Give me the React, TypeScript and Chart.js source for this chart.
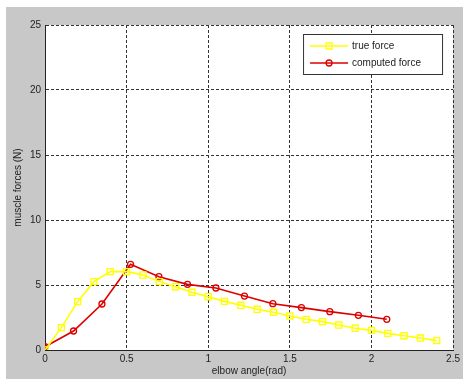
import React, { useEffect, useRef } from "react";
import { Chart, registerables } from "chart.js";

Chart.register(...registerables);

const trueX = [0, 0.1, 0.2, 0.3, 0.4, 0.5, 0.6, 0.7, 0.8, 0.9, 1.0, 1.1, 1.2, 1.3, 1.4, 1.5, 1.6, 1.7, 1.8, 1.9, 2.0, 2.1, 2.2, 2.3, 2.4];
const trueForce = [0, 1.72, 3.72, 5.26, 6.03, 6.03, 5.77, 5.26, 4.87, 4.44, 4.1, 3.74, 3.44, 3.13, 2.9, 2.62, 2.36, 2.18, 1.92, 1.67, 1.51, 1.28, 1.1, 0.92, 0.72];
const computedX = [0, 0.175, 0.349, 0.524, 0.698, 0.873, 1.047, 1.222, 1.396, 1.571, 1.745, 1.92, 2.094];
const computedForce = [0.25, 1.46, 3.54, 6.59, 5.64, 5.05, 4.77, 4.15, 3.56, 3.26, 2.95, 2.67, 2.36];
const seriesLabels = ["true force", "computed force"];
const xTicks = [0, 0.5, 1, 1.5, 2, 2.5];
const yTicks = [0, 5, 10, 15, 20, 25];

const FONT = "'Liberation Sans', Arial, sans-serif";
const TEXT = "#222222";
const YELLOW = "#ffff00";
const RED = "#dd0000";

const bgPlugin = {
  id: "bg",
  beforeDraw(chart: any) {
    const { ctx, chartArea } = chart;
    ctx.save();
    ctx.fillStyle = "#c8c8c8";
    ctx.fillRect(0, 0, chart.width, chart.height);
    ctx.fillStyle = "#ffffff";
    ctx.fillRect(chartArea.left, chartArea.top, chartArea.right - chartArea.left, chartArea.bottom - chartArea.top);
    ctx.restore();
  },
};

const legendPlugin = {
  id: "mlLegend",
  afterDraw(chart: any) {
    const { ctx, chartArea } = chart;
    const w = 139;
    const h = 40;
    const x0 = chartArea.right - 11 - w;
    const y0 = chartArea.top + 9;
    ctx.save();
    ctx.fillStyle = "#ffffff";
    ctx.fillRect(x0, y0, w, h);
    ctx.strokeStyle = "#333333";
    ctx.lineWidth = 1;
    ctx.strokeRect(x0 + 0.5, y0 + 0.5, w, h);
    chart.data.datasets.forEach((ds: any, i: number) => {
      const cy = y0 + 12 + i * 17;
      const lx1 = x0 + 7;
      const lx2 = x0 + 45;
      const mx = (lx1 + lx2) / 2;
      ctx.strokeStyle = ds.borderColor;
      ctx.lineWidth = ds.borderWidth;
      ctx.beginPath();
      ctx.moveTo(lx1, cy);
      ctx.lineTo(lx2, cy);
      ctx.stroke();
      ctx.lineWidth = 1.3;
      ctx.beginPath();
      if (ds.pointStyle === "rect") {
        ctx.rect(mx - 3, cy - 3, 6, 6);
      } else {
        ctx.arc(mx, cy, 3, 0, Math.PI * 2);
      }
      ctx.stroke();
      ctx.fillStyle = TEXT;
      ctx.font = "10px " + FONT;
      ctx.textBaseline = "middle";
      ctx.textAlign = "left";
      ctx.fillText(ds.label, x0 + 49, cy);
    });
    ctx.restore();
  },
};

export default function App() {
  const ref = useRef<HTMLCanvasElement | null>(null);
  useEffect(() => {
    if (!ref.current) return;
    const chart = new Chart(ref.current, {
      type: "scatter",
      data: {
        datasets: [
          {
            label: seriesLabels[0],
            data: trueX.map((x, i) => ({ x, y: trueForce[i] })),
            showLine: true,
            borderColor: YELLOW,
            borderWidth: 1.6,
            pointStyle: "rect",
            pointRadius: 4.3,
            pointBorderWidth: 1.3,
            pointBorderColor: YELLOW,
            pointBackgroundColor: "transparent",
            tension: 0,
          },
          {
            label: seriesLabels[1],
            data: computedX.map((x, i) => ({ x, y: computedForce[i] })),
            showLine: true,
            borderColor: RED,
            borderWidth: 1.6,
            pointStyle: "circle",
            pointRadius: 3,
            pointBorderWidth: 1.3,
            pointBorderColor: RED,
            pointBackgroundColor: "transparent",
            tension: 0,
          },
        ],
      },
      options: {
        responsive: false,
        animation: false,
        events: [],
        layout: { padding: { top: 18, right: 9, left: 0, bottom: 0 } },
        plugins: {
          legend: { display: false },
          tooltip: { enabled: false },
        },
        scales: {
          x: {
            type: "linear",
            min: 0,
            max: 2.5,
            afterFit: (s: any) => { s.height = 29; },
            afterBuildTicks: (s: any) => { s.ticks = xTicks.map((v) => ({ value: v })); },
            ticks: {
              padding: 3,
              color: TEXT,
              font: { family: FONT, size: 10 },
              maxRotation: 0,
              callback: (v: any) => String(v),
            },
            grid: { color: "#333333", lineWidth: 1, drawTicks: false },
            border: { display: true, color: "#222222", width: 1, dash: [3, 2] },
            title: {
              display: true,
              text: "elbow angle(rad)",
              color: TEXT,
              font: { family: FONT, size: 10 },
              padding: { top: 0, bottom: 2 },
            },
          },
          y: {
            type: "linear",
            min: 0,
            max: 25,
            afterFit: (s: any) => { s.width = 39; },
            afterBuildTicks: (s: any) => { s.ticks = yTicks.map((v) => ({ value: v })); },
            ticks: {
              padding: 4,
              color: TEXT,
              font: { family: FONT, size: 10 },
              callback: (v: any) => String(v),
            },
            grid: { color: "#333333", lineWidth: 1, drawTicks: false },
            border: { display: true, color: "#222222", width: 1, dash: [3, 2] },
            title: {
              display: true,
              text: "muscle forces (N)",
              color: TEXT,
              font: { family: FONT, size: 10 },
              padding: { top: 6, bottom: 0 },
            },
          },
        },
      },
      plugins: [bgPlugin, legendPlugin],
    } as any);
    return () => chart.destroy();
  }, []);
  return (
    <div style={{ position: "fixed", left: 6, top: 7, width: 457, height: 372 }}>
      <canvas ref={ref} width={457} height={372} style={{ display: "block", width: 457, height: 372 }} />
    </div>
  );
}
